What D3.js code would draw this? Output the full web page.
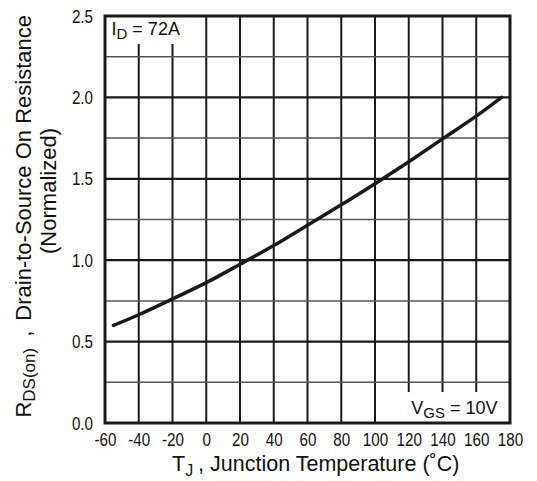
<!DOCTYPE html>
<html>
<head>
<meta charset="utf-8">
<script src="https://cdn.jsdelivr.net/npm/d3@7/dist/d3.min.js"></script>
<style>
  body { margin: 0; background: #fff; }
  svg text { font-family: "Liberation Sans", Arial, sans-serif; fill: #111; }
</style>
</head>
<body>
<div id="chart"></div>
<script>
var tempC = [-55, -40, -20, 0, 20, 40, 60, 80, 100, 120, 140, 160, 175];
var rdsNorm = [0.60, 0.665, 0.762, 0.862, 0.975, 1.09, 1.215, 1.34, 1.47, 1.605, 1.745, 1.885, 2.0];
var xTicks = [-60, -40, -20, 0, 20, 40, 60, 80, 100, 120, 140, 160, 180];
var yTicks = [0, 0.5, 1.0, 1.5, 2.0, 2.5];
var yGrid = [0.25, 0.5, 0.75, 1.0, 1.25, 1.5, 1.75, 2.0, 2.25];

var W = 537, H = 481;
var margin = {top: 16, left: 105, right: 27, bottom: 58};
var width = W - margin.left - margin.right,
    height = H - margin.top - margin.bottom;
var squeeze = 0.8; // tick labels are narrow in the original

var svg = d3.select("#chart").append("svg")
    .attr("width", W).attr("height", H);
var g = svg.append("g")
    .attr("transform", "translate(" + margin.left + "," + margin.top + ")");

var x = d3.scaleLinear().domain([-60, 180]).range([0, width]);
var y = d3.scaleLinear().domain([0, 2.5]).range([height, 0]);

// grid
g.selectAll(".vgrid").data(xTicks.slice(1, -1)).enter().append("line")
    .attr("x1", d => x(d)).attr("x2", d => x(d))
    .attr("y1", 0).attr("y2", height)
    .attr("stroke", "#1a1a1a").attr("stroke-width", 2);
g.selectAll(".hgrid").data(yGrid).enter().append("line")
    .attr("x1", 0).attr("x2", width)
    .attr("y1", d => y(d)).attr("y2", d => y(d))
    .attr("stroke", d => (d * 2) % 1 === 0 ? "#1a1a1a" : "#555")
    .attr("stroke-width", d => (d * 2) % 1 === 0 ? 2.2 : 1.5);

// label boxes hiding the grid
g.append("rect").attr("x", 0).attr("y", 0).attr("width", 96).attr("height", 28).attr("fill", "#fff");
g.append("rect").attr("x", x(111)).attr("y", y(0.19))
    .attr("width", width - x(111)).attr("height", height - y(0.19)).attr("fill", "#fff");

// curve
var line = d3.line().x((d, i) => x(tempC[i])).y(d => y(d)).curve(d3.curveNatural);
g.append("path").datum(rdsNorm)
    .attr("d", line)
    .attr("fill", "none")
    .attr("stroke", "#1a1a1a")
    .attr("stroke-width", 3.5)
    .attr("stroke-linecap", "round");

// frame
g.append("rect").attr("width", width).attr("height", height)
    .attr("fill", "none").attr("stroke", "#1a1a1a").attr("stroke-width", 3);

// axes
var xAxis = g.append("g").attr("transform", "translate(0," + height + ")")
    .call(d3.axisBottom(x).tickValues(xTicks).tickSize(0).tickPadding(10).tickFormat(d => String(d)));
var yAxis = g.append("g")
    .call(d3.axisLeft(y).tickValues(yTicks).tickSize(0).tickPadding(12).tickFormat(d3.format(".1f")));
[xAxis, yAxis].forEach(function(a){
  a.select(".domain").remove();
  a.selectAll("text")
    .attr("font-size", 19)
    .attr("font-family", "Liberation Sans, Arial, sans-serif")
    .attr("fill", "#111")
    .attr("transform", "scale(" + squeeze + ",1)");
});
yAxis.selectAll("text").attr("x", -12 / squeeze);

// annotations
var id = g.append("text").attr("x", 6.5).attr("y", 18.5).attr("font-size", 18);
id.append("tspan").text("I");
id.append("tspan").attr("dy", 4).attr("font-size", 15).text("D");
id.append("tspan").attr("dy", -4).text(" = 72A");

var vgs = g.append("text").attr("x", x(121.5)).attr("y", height - 9).attr("font-size", 18);
vgs.append("tspan").text("V");
vgs.append("tspan").attr("dy", 4).attr("font-size", 15).text("GS");
vgs.append("tspan").attr("dy", -4).text(" = 10V");

// axis titles
var xt = svg.append("text").attr("x", 172).attr("y", 470.5).attr("font-size", 21.5);
xt.append("tspan").text("T");
xt.append("tspan").attr("dy", 5).attr("font-size", 16).text("J");
xt.append("tspan").attr("dy", -5).attr("dx", -1).text(" , Junction Temperature (\u02DAC)");

var yt = svg.append("g").attr("transform", "rotate(-90)");
var t1 = yt.append("text").attr("x", -15).attr("y", 31)
    .attr("text-anchor", "end").attr("font-size", 22);
t1.append("tspan").text("R");
t1.append("tspan").attr("dy", 4).attr("font-size", 17).text("DS(on)");
t1.append("tspan").attr("dy", -4).attr("dx", 11).text(",");
t1.append("tspan").attr("dx", 10).text("Drain-to-Source On Resistance");
yt.append("text").attr("x", -191).attr("y", 56)
    .attr("text-anchor", "middle").attr("font-size", 22).text("(Normalized)");
</script>
</body>
</html>
